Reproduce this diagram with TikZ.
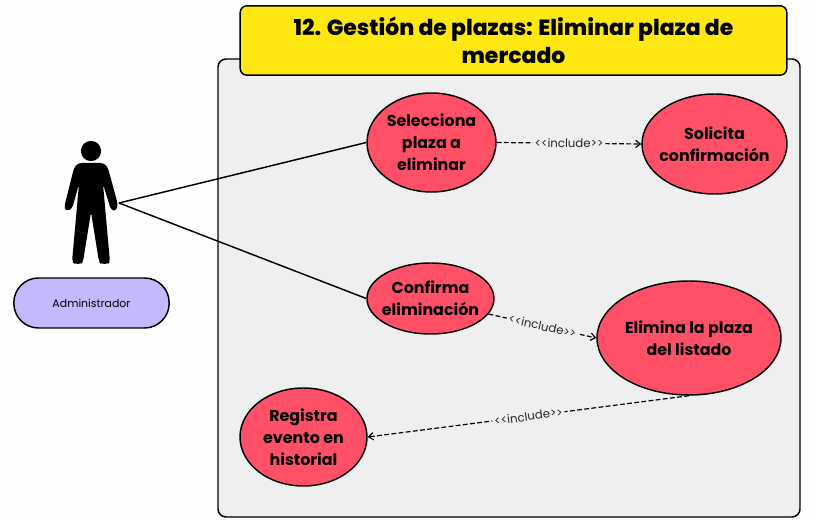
\documentclass[tikz,border=0pt]{standalone}
\usepackage{fontspec}
\setmainfont{Poppins}
\newfontfamily\titlefont{Poppins ExtraBold}
\usetikzlibrary{shapes.geometric,arrows.meta}
\definecolor{panelgray}{HTML}{EFEFEF}
\definecolor{usecasered}{HTML}{FF5068}
\definecolor{titleyellow}{HTML}{FFE812}
\definecolor{pilllilac}{HTML}{C4B8FF}
\definecolor{canvasdot}{HTML}{F6F6F6}
\tikzset{
  usecase/.style={ellipse,draw=black,line width=1.1pt,fill=usecasered,inner sep=-16pt,align=center,
    font=\fontsize{11.9}{16.6}\selectfont\bfseries},
  assoc/.style={draw=black,line width=1.1pt},
  incl/.style={draw=black,line width=.9pt,dash pattern=on 3.6pt off 1.8pt,-{Straight Barb[length=3.5pt,width=5.5pt]}},
  incllabel/.style={fill=panelgray,inner sep=1.5pt,sloped,font=\fontsize{8.8}{10}\selectfont,text=black!85},
}
\begin{document}
\begin{tikzpicture}[x=.75pt,y=-.75pt]
\useasboundingbox (0,0) rectangle (815,523);
\fill[white] (0,0) rectangle (815,523);
\foreach \gx in {0,...,122}
  \draw[canvasdot,line width=.75pt,dash pattern=on .75pt off 4.25pt] ({4+6.667*\gx},3) -- ({4+6.667*\gx},523);
\draw[fill=panelgray,line width=1.1pt,rounded corners=6pt] (218,59) rectangle (800,517);
\node[draw=black,line width=1.1pt,fill=titleyellow,rounded corners=5pt,inner sep=0pt,
  minimum width=410pt,minimum height=52pt,align=center,
  font=\fontsize{16.45}{21}\titlefont] (title) at (513.5,40.5) {12. Gestión de plazas: Eliminar plaza de\\mercado};
% actor
\fill[black] (91,151) circle[radius=7.6pt];
\fill[black,rounded corners=2.5pt]
  (78,163) -- (104,163) -- (108,168) -- (118,205) -- (116,211) -- (111,210) -- (103,184)
  -- (110,262) -- (108,264) -- (101,264) -- (99,262) -- (91,212) -- (83,262) -- (81,264)
  -- (75,264) -- (72,262) -- (79,184) -- (72,209) -- (67,211) -- (64,208) -- (74,168) -- cycle;
\coordinate (actor) at (119,203);
\node[draw=black,line width=1.1pt,fill=pilllilac,rounded corners=18.5pt,minimum width=116.5pt,minimum height=37.5pt,inner sep=0pt,
  font=\fontsize{8.2}{10}\selectfont] (admin) at (91.5,303) {Administrador};
% use cases
\node[usecase,minimum width=96.75pt,minimum height=74.25pt] (sel) at (431.5,142.5) {Selecciona\\plaza a\\eliminar};
\node[usecase,minimum width=108.75pt,minimum height=75pt] (sol) at (714.5,144) {Solicita\\confirmación};
\node[usecase,minimum width=95.25pt,minimum height=53.25pt] (conf) at (430.5,298.5) {Confirma\\eliminación};
\node[usecase,minimum width=138pt,minimum height=85.5pt] (eli) at (689,338) {Elimina la plaza\\del listado};
\node[usecase,minimum width=95.25pt,minimum height=73.5pt] (reg) at (303.5,437) {Registra\\evento en\\historial};
% connectors
\draw[assoc] (actor) -- (sel.west);
\draw[assoc] (actor) -- (conf.west);
\draw[incl] (sel.east) -- node[incllabel]{<{}<include>{}>} (sol.west);
\draw[incl] (conf.-15) -- node[incllabel]{<{}<include>{}>} (eli.west);
\draw[incl] (eli.south) -- node[incllabel]{<{}<include>{}>} (reg.east);
\end{tikzpicture}
\end{document}
